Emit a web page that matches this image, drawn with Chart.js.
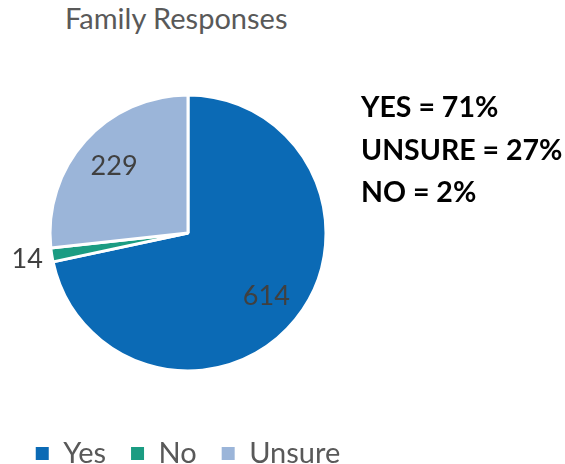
<!DOCTYPE html>
<html>
<head>
<meta charset="utf-8">
<script src="https://cdn.jsdelivr.net/npm/chart.js@4"></script>
<style>
  html, body { margin: 0; padding: 0; background: #fff; }
  #page { position: relative; width: 565px; height: 464px; overflow: hidden; font-family: Lato, "Open Sans", sans-serif; }
  #title { position: absolute; left: 65px; top: 0px; font-size: 29px; color: #595959; white-space: nowrap; }
  #wrap { position: absolute; left: 4px; top: 0; width: 380px; height: 478px; }
  #notes { position: absolute; left: 361px; top: 85px; font-weight: bold; font-size: 28.5px; color: #000; line-height: 42.5px; white-space: nowrap; }
</style>
</head>
<body>
<div id="page">
  <div id="title">Family Responses</div>
  <div id="wrap"><canvas id="c"></canvas></div>
  <div id="notes"></div>
</div>
<script>
// Survey answers, drawn clockwise from 12 o'clock
const categories = ['Yes', 'No', 'Unsure'];
const counts = [614, 14, 229];
const sliceColors = ['#0B6AB5', '#1B9C82', '#9BB5D9'];
const summaryLines = ['YES = 71%', 'UNSURE = 27%', 'NO = 2%'];

document.getElementById('notes').innerHTML = summaryLines.map(t => '<div>' + t + '</div>').join('');

// Count labels: placed along each slice's mid-angle, at a fraction of the radius
const labelDistance = [0.73, 1.18, 0.72];
const countLabels = {
  id: 'countLabels',
  afterDatasetsDraw(chart) {
    const ctx = chart.ctx;
    const meta = chart.getDatasetMeta(0);
    ctx.save();
    ctx.font = '27px Lato, "Open Sans", sans-serif';
    ctx.fillStyle = '#404040';
    ctx.textAlign = 'center';
    ctx.textBaseline = 'middle';
    meta.data.forEach((arc, i) => {
      const p = arc.getProps(['x', 'y', 'startAngle', 'endAngle', 'outerRadius'], true);
      const mid = (p.startAngle + p.endAngle) / 2;
      const r = p.outerRadius * labelDistance[i];
      ctx.fillText(String(counts[i]), p.x + Math.cos(mid) * r, p.y + Math.sin(mid) * r);
    });
    ctx.restore();
  }
};

new Chart(document.getElementById('c'), {
  type: 'pie',
  data: {
    labels: categories,
    datasets: [{
      data: counts,
      backgroundColor: sliceColors,
      borderColor: '#ffffff',
      borderWidth: 3,
      radius: 138
    }]
  },
  options: {
    responsive: true,
    maintainAspectRatio: false,
    animation: false,
    layout: { padding: { top: 52, left: 0, right: 12, bottom: 0 } },
    plugins: {
      tooltip: { enabled: false },
      title: { display: false },
      legend: {
        position: 'bottom',
        labels: {
          boxWidth: 13,
          boxHeight: 13,
          padding: 25,
          color: '#595959',
          font: { family: 'Lato, "Open Sans", sans-serif', size: 29 },
          generateLabels(chart) {
            return chart.data.labels.map((text, i) => ({
              text,
              fillStyle: sliceColors[i],
              strokeStyle: sliceColors[i],
              lineWidth: 0,
              fontColor: '#595959',
              hidden: false,
              index: i
            }));
          }
        }
      }
    }
  },
  plugins: [countLabels]
});
</script>
</body>
</html>
